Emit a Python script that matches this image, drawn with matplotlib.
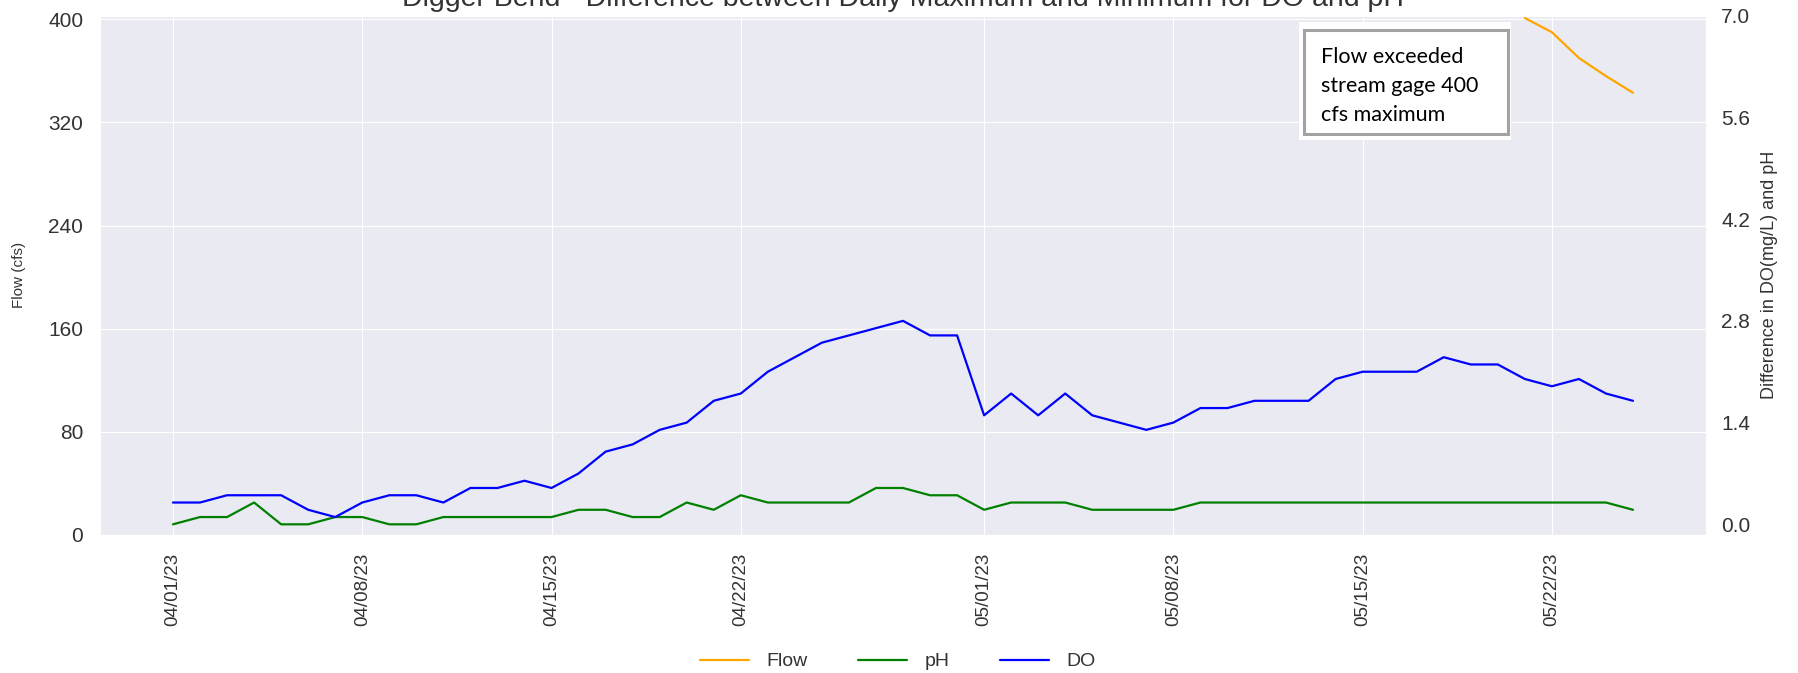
import numpy as np
import pandas as pd
import matplotlib
matplotlib.use('Agg')
import matplotlib.pyplot as plt
import matplotlib.dates as mdates
from matplotlib.patches import Rectangle
import seaborn as sns

sns.set_style('darkgrid')
plt.rcParams['font.family'] = ['Liberation Sans', 'DejaVu Sans']

# daily data, 04/01/23 - 05/25/23
dates = pd.date_range('2023-04-01', '2023-05-25', freq='D')

# flow above the 400 cfs gage max was not recorded
flow_cfs = [np.nan] * 50 + [401, 390, 370, 356, 343]

do_diff = [0.3, 0.3, 0.4, 0.4, 0.4, 0.2, 0.1, 0.3, 0.4, 0.4,
           0.3, 0.5, 0.5, 0.6, 0.5, 0.7, 1.0, 1.1, 1.3, 1.4,
           1.7, 1.8, 2.1, 2.3, 2.5, 2.6, 2.7, 2.8, 2.6, 2.6,
           1.5, 1.8, 1.5, 1.8, 1.5, 1.4, 1.3, 1.4, 1.6, 1.6,
           1.7, 1.7, 1.7, 2.0, 2.1, 2.1, 2.1, 2.3, 2.2, 2.2,
           2.0, 1.9, 2.0, 1.8, 1.7]

ph_diff = [0.0, 0.1, 0.1, 0.3, 0.0, 0.0, 0.1, 0.1, 0.0, 0.0,
           0.1, 0.1, 0.1, 0.1, 0.1, 0.2, 0.2, 0.1, 0.1, 0.3,
           0.2, 0.4, 0.3, 0.3, 0.3, 0.3, 0.5, 0.5, 0.4, 0.4,
           0.2, 0.3, 0.3, 0.3, 0.2, 0.2, 0.2, 0.2, 0.3, 0.3,
           0.3, 0.3, 0.3, 0.3, 0.3, 0.3, 0.3, 0.3, 0.3, 0.3,
           0.3, 0.3, 0.3, 0.3, 0.2]

flow_ticks = [0, 80, 160, 240, 320, 400]
diff_ticks = [0.0, 1.4, 2.8, 4.2, 5.6, 7.0]

title = 'Digger Bend - Difference between Daily Maximum and Minimum for DO and pH'
note = 'Flow exceeded\nstream gage 400\ncfs maximum'

fig = plt.figure(figsize=(17.98, 6.73), dpi=100)
ax1 = fig.add_axes([100 / 1798, 1 - 535 / 673, 1606 / 1798, 519.3 / 673])
ax2 = ax1.twinx()

l_flow, = ax1.plot(dates, flow_cfs, color='orange', lw=1.6, label='Flow')
l_ph, = ax2.plot(dates, ph_diff, color='green', lw=1.6, label='pH')
l_do, = ax2.plot(dates, do_diff, color='blue', lw=1.6, label='DO')

ax1.set_ylim(0, 402.8)
ax2.set_ylim(-0.147, 7.0)
ax1.set_yticks(flow_ticks)
ax2.set_yticks(diff_ticks)
ax2.yaxis.set_major_formatter(plt.FormatStrFormatter('%.1f'))
ax2.grid(False)

ax1.xaxis.set_major_locator(mdates.DayLocator(bymonthday=[1, 8, 15, 22]))
ax1.xaxis.set_major_formatter(mdates.DateFormatter('%m/%d/%y'))
ax1.tick_params(axis='x', labelrotation=90, pad=13, labelsize=13.5, length=0)
ax1.tick_params(axis='y', pad=12, labelsize=15, length=0)
ax2.tick_params(axis='y', pad=11, labelsize=15, length=0)
for lab in ax1.get_xticklabels() + ax1.get_yticklabels() + ax2.get_yticklabels():
    lab.set_color('#333333')

ax1.set_ylabel('Flow (cfs)', fontsize=11, color='#333333')
ax1.yaxis.set_label_coords(-0.046, 0.5)
ax2.set_ylabel('Difference in DO(mg/L) and pH', fontsize=13, color='#333333')
ax2.yaxis.set_label_coords(1.034, 0.5)

fig.text(0.502, 1 - 6 / 673, title, ha='center', va='baseline', fontsize=20.5, color='#333333')

fig.legend(handles=[l_flow, l_ph, l_do], loc='center', bbox_to_anchor=(0.4994, 0.0168),
           ncol=3, frameon=False, fontsize=14, handlelength=2.5, handletextpad=0.9,
           columnspacing=2.6, labelcolor='#333333')

# pasted callout box
fig.patches.append(Rectangle((1299 / 1798, 1 - 140 / 673), 212 / 1798, 118 / 673,
                             transform=fig.transFigure, facecolor='white', edgecolor='none'))
fig.patches.append(Rectangle((1303.8 / 1798, 1 - 133.5 / 673), 203.7 / 1798, 103.7 / 673,
                             transform=fig.transFigure, facecolor='white', edgecolor='#a3a3a3', lw=2.2))
fig.text(1320.7 / 1798, 1 - 47 / 673, note, ha='left', va='top', fontsize=15.5,
         family=['Lato', 'DejaVu Sans'], linespacing=1.55, color='black')

fig.savefig('out.png', dpi=100)
